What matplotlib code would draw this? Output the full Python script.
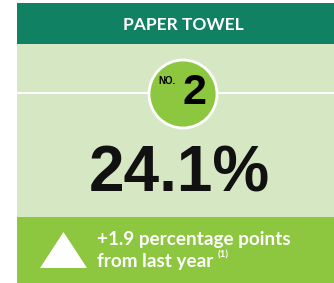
import matplotlib
matplotlib.use('Agg')
import matplotlib.pyplot as plt
from matplotlib.patches import Rectangle, Circle, Polygon

# data
category = "PAPER TOWEL"
rank = 2
share_pct = 24.1
change_pts = 1.9
change_note = "(1)"

dark_green = '#108163'
light_green = '#d5e8c3'
bright_green = '#8dc63f'

fig = plt.figure(figsize=(3.34, 2.83), dpi=100)
ax = fig.add_axes([0, 0, 1, 1])
ax.set_xlim(0, 334)
ax.set_ylim(283, 0)
ax.axis('off')

# panel blocks
ax.add_patch(Rectangle((17, 3), 330, 41, color=dark_green, lw=0))
ax.add_patch(Rectangle((17, 44), 330, 173, color=light_green, lw=0))
ax.add_patch(Rectangle((17, 217), 330, 70, color=bright_green, lw=0))

cx = 183
ax.text(cx, 25, category, color='white', fontsize=12.5, fontweight='bold',
        family='Lato', ha='center', va='center')

# rank badge
ax.plot([17, 334], [93, 93], color='white', lw=1.4, zorder=2)
ax.add_patch(Circle((cx, 94), 34, facecolor=bright_green, edgecolor='white',
                    lw=2, zorder=3))
ax.text(cx - 7, 81, "NO.", fontsize=7, fontweight='bold', family='Liberation Sans',
        ha='right', va='center', zorder=4)
ax.text(cx - 1, 93, str(rank), fontsize=31, fontweight='bold',
        family='Liberation Sans', ha='left', va='center', zorder=4)

# share
ax.text(179, 175, f"{share_pct:.1f}%", fontsize=46, fontweight='bold',
        family='Liberation Sans', ha='center', va='center', color='#111111')

# change
ax.add_patch(Polygon([(40, 268), (87, 268), (63.5, 232)], closed=True,
                     color='white', lw=0))
ax.text(97, 240, f"+{change_pts} percentage points", color='white', fontsize=13.6,
        fontweight='bold', family='Lato', ha='left', va='center')
t = ax.text(97, 261, "from last year ", color='white', fontsize=13.6,
            fontweight='bold', family='Lato', ha='left', va='center')
fig.canvas.draw()
bb = t.get_window_extent()
x_end = ax.transData.inverted().transform((bb.x1, bb.y0))[0]
ax.text(x_end, 255, change_note, color='white', fontsize=7, fontweight='bold',
        family='Lato', ha='left', va='center')

fig.savefig('out.png', dpi=100)
